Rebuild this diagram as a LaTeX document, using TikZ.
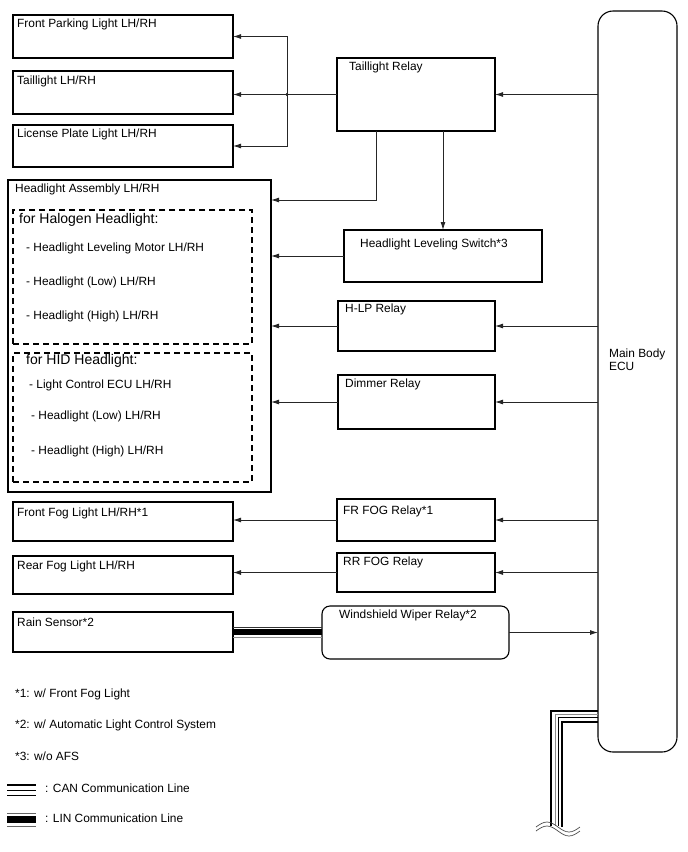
\documentclass[tikz,border=0pt]{standalone}
\usepackage{fontspec}
\setmainfont{Liberation Sans}
\usetikzlibrary{arrows.meta,calc}
\begin{document}
\begin{tikzpicture}[x=1pt,y=-1pt,
 box/.style={draw=black,line width=1.1pt,anchor=north west,inner sep=0,outer sep=0},
 dbox/.style={box,dash pattern=on 6pt off 4pt},
 lbl/.style={anchor=base west,inner sep=0,font=\fontsize{11.9}{14}\selectfont},
 big/.style={anchor=base west,inner sep=0,font=\fontsize{14}{16}\selectfont},
 conn/.style={draw=black!85,line width=0.9pt},
 arr/.style={conn,-{Latex[length=8pt,width=5pt]}},
]
\useasboundingbox (0,0) rectangle (688,852);
% boxes
\node[box,minimum width=220pt,minimum height=43pt] (fpl) at (13,15) {};
\node[box,minimum width=220pt,minimum height=43pt] (tl) at (13,71) {};
\node[box,minimum width=220pt,minimum height=42pt] (lpl) at (13,125) {};
\node[box,minimum width=158pt,minimum height=73pt] (tr) at (337,58) {};
\node[box,minimum width=263pt,minimum height=312pt] (ha) at (8,180) {};
\node[dbox,minimum width=239pt,minimum height=134pt] (halo) at (13,210) {};
\node[dbox,minimum width=239pt,minimum height=129pt] (hid) at (13,353) {};
\node[box,minimum width=198pt,minimum height=52pt] (hls) at (344,230) {};
\node[box,minimum width=157pt,minimum height=50pt] (hlp) at (338,301) {};
\node[box,minimum width=157pt,minimum height=54pt] (dim) at (338,375) {};
\node[box,minimum width=220pt,minimum height=39pt] (fff) at (13,502) {};
\node[box,minimum width=220pt,minimum height=38pt] (rrf) at (13,556) {};
\node[box,minimum width=220pt,minimum height=40pt] (rain) at (13,612) {};
\node[box,minimum width=158pt,minimum height=42pt] (ffr) at (337,499) {};
\node[box,minimum width=158pt,minimum height=39pt] (rrr) at (337,553) {};
\node[box,rounded corners=8pt,minimum width=187pt,minimum height=53pt] (wwr) at (322,606) {};
\node[box,rounded corners=15pt,minimum width=79pt,minimum height=741pt] (ecu) at (598,11) {};
% labels
\node[lbl] (t1) at (17,27) {Front Parking Light LH/RH};
\node[lbl] (t2) at (17,84) {Taillight LH/RH};
\node[lbl] (t3) at (17,137) {License Plate Light LH/RH};
\node[lbl] (t4) at (349,70) {Taillight Relay};
\node[lbl] (t5) at (15,192) {Headlight Assembly LH/RH};
\node[big] (t6) at (19,223) {for Halogen Headlight:};
\node[lbl] (t7) at (26,251) {- Headlight Leveling Motor LH/RH};
\node[lbl] (t8) at (26,285) {- Headlight (Low) LH/RH};
\node[lbl] (t9) at (26,319) {- Headlight (High) LH/RH};
\node[big] (t10) at (26,364) {for HID Headlight:};
\node[lbl] (t11) at (29,388) {- Light Control ECU LH/RH};
\node[lbl] (t12) at (31,419) {- Headlight (Low) LH/RH};
\node[lbl] (t13) at (31,454) {- Headlight (High) LH/RH};
\node[lbl] (t14) at (360,247) {Headlight Leveling Switch*3};
\node[lbl] (t15) at (345,312) {H-LP Relay};
\node[lbl] (t16) at (345,387) {Dimmer Relay};
\node[lbl] (t17) at (17,516) {Front Fog Light LH/RH*1};
\node[lbl] (t18) at (17,569) {Rear Fog Light LH/RH};
\node[lbl] (t19) at (17,626) {Rain Sensor*2};
\node[lbl] (t20) at (343,514) {FR FOG Relay*1};
\node[lbl] (t21) at (343,565) {RR FOG Relay};
\node[lbl] (t22) at (339,618) {Windshield Wiper Relay*2};
\node[lbl] (t23) at (609,357) {Main Body};
\node[lbl] (t24) at (609,370) {ECU};
% connectors
\coordinate (j) at (tr.west -| 287,0);
\draw[conn] (tr.west) -- (j);
\fill (j) circle (1.6pt);
\draw[arr] (j) |- (fpl.east);
\draw[arr] (j) -- (j -| tl.east);
\draw[arr] (j) |- (lpl.east);
\draw[arr] (ecu.west |- tr.east) -- (tr.east);
\draw[arr] (tr.south -| 376,0) |- (ha.east |- 0,200);
\draw[arr] (tr.south -| 443,0) -- (hls.north -| 443,0);
\draw[arr] (hls.west) -- (hls.west -| ha.east);
\draw[arr] (hlp.west) -- (hlp.west -| ha.east);
\draw[arr] (ecu.west |- hlp.east) -- (hlp.east);
\draw[arr] (dim.west) -- (dim.west -| ha.east);
\draw[arr] (ecu.west |- dim.east) -- (dim.east);
\draw[arr] (ffr.west) -- (ffr.west -| fff.east);
\draw[arr] (ecu.west |- ffr.east) -- (ffr.east);
\draw[arr] (rrr.west) -- (rrr.west -| rrf.east);
\draw[arr] (ecu.west |- rrr.east) -- (rrr.east);
\draw[arr] (wwr.east) -- (wwr.east -| ecu.west);
% LIN line
\draw[line width=5.5pt,black] (rain.east) -- (rain.east -| wwr.west);
\draw[line width=0.8pt,black!80] ([yshift=5pt]rain.east) -- ([yshift=5pt]rain.east -| wwr.west);
\draw[line width=0.8pt,black!45] ([yshift=-5.5pt]rain.east) -- ([yshift=-5.5pt]rain.east -| wwr.west);
% CAN line
\draw[line width=1.6pt] (ecu.west |- 0,711) -| (551,826);
\draw[line width=0.7pt,black!45] (ecu.west |- 0,714.5) -| (555,826);
\draw[line width=1pt] (ecu.west |- 0,717.5) -| (558,826);
\draw[line width=1.2pt] (ecu.west |- 0,722) -| (562,827);
\draw[line width=0.7pt,black!70] (536,827) sin (547,822) cos (558,827) sin (569,832) cos (580,827);
\draw[line width=0.7pt,black!70] (536,831) sin (547,826) cos (558,831) sin (569,836) cos (580,831);
% legend
\node[lbl] (n1) at (15,697) {*1: w/ Front Fog Light};
\node[lbl] (n2) at (15,728) {*2: w/ Automatic Light Control System};
\node[lbl] (n3) at (15,760) {*3: w/o AFS};
\coordinate (c1) at (7,785);
\coordinate (c2) at (36,785);
\draw[line width=1.3pt] (c1) -- (c2);
\draw[line width=1pt] ($(c1)+(0,5)$) -- ($(c2)+(0,5)$);
\draw[line width=1.6pt] ($(c1)+(0,10.5)$) -- ($(c2)+(0,10.5)$);
\node[lbl] (n4) at (45,792) {: CAN Communication Line};
\coordinate (l1) at (7,819);
\coordinate (l2) at (36,819);
\draw[line width=0.6pt,black!60] ($(l1)+(0,-6)$) -- ($(l2)+(0,-6)$);
\draw[line width=7pt] (l1) -- (l2);
\draw[line width=0.8pt,black!60] ($(l1)+(0,7.5)$) -- ($(l2)+(0,7.5)$);
\node[lbl] (n5) at (45,822) {: LIN Communication Line};
\end{tikzpicture}
\end{document}
